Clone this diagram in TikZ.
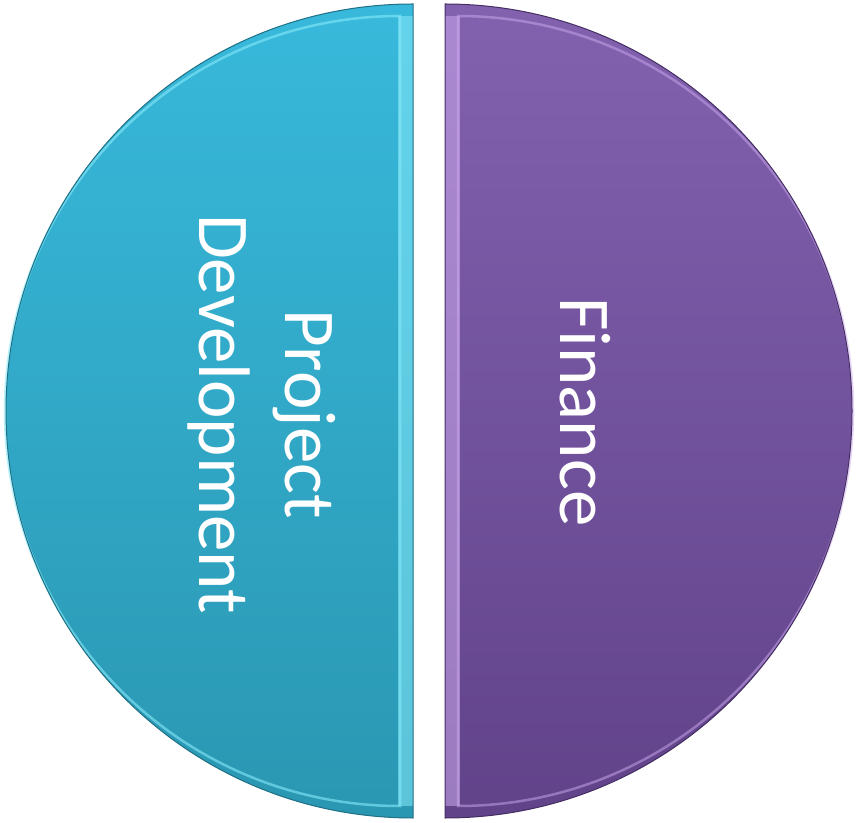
\documentclass[tikz,border=0pt]{standalone}
\usepackage{fontspec}
\setmainfont{Carlito}
\usetikzlibrary{positioning}

\definecolor{cyantop}{HTML}{38B9DB}
\definecolor{cyanbot}{HTML}{2A97B2}
\definecolor{cyanlight}{HTML}{86EAFA}
\definecolor{cyanedge}{HTML}{1F6F85}
\definecolor{purptop}{HTML}{8261AF}
\definecolor{purpbot}{HTML}{61438A}
\definecolor{purplight}{HTML}{CDAAEE}
\definecolor{purpedge}{HTML}{442E62}

\begin{document}
\begin{tikzpicture}[
	x=1pt,
	y=1pt,
	left half/.style={top color=cyantop,bottom color=cyanbot},
	right half/.style={top color=purptop,bottom color=purpbot},
	half text/.style={text=white,font=\fontsize{73}{86}\selectfont,align=center,rotate=-90}
]
\useasboundingbox (0,0) rectangle (856,822);

% left half
\shade[left half] (413,818) arc[start angle=90,end angle=270,radius=407] -- cycle;
\draw[cyanlight,line width=2.5,opacity=.6] (400,806) arc[start angle=90,end angle=270,radius=395] -- cycle;
\fill[cyanlight,opacity=.55] (398,806) rectangle (413,16);
\draw[cyanedge,line width=1] (413,818) arc[start angle=90,end angle=270,radius=407] -- cycle;

% right half
\shade[right half] (445,818) arc[start angle=90,end angle=-90,radius=407] -- cycle;
\draw[purplight,line width=2.5,opacity=.5] (458,806) arc[start angle=90,end angle=-90,radius=395] -- cycle;
\fill[purplight,opacity=.55] (445,806) rectangle (460,16);
\draw[purpedge,line width=1] (445,818) arc[start angle=90,end angle=-90,radius=407] -- cycle;

\node[half text] (proj) at (262,408) {Project\\Development};
\node[half text] (fin) at (585,410) {Finance};
\end{tikzpicture}
\end{document}
